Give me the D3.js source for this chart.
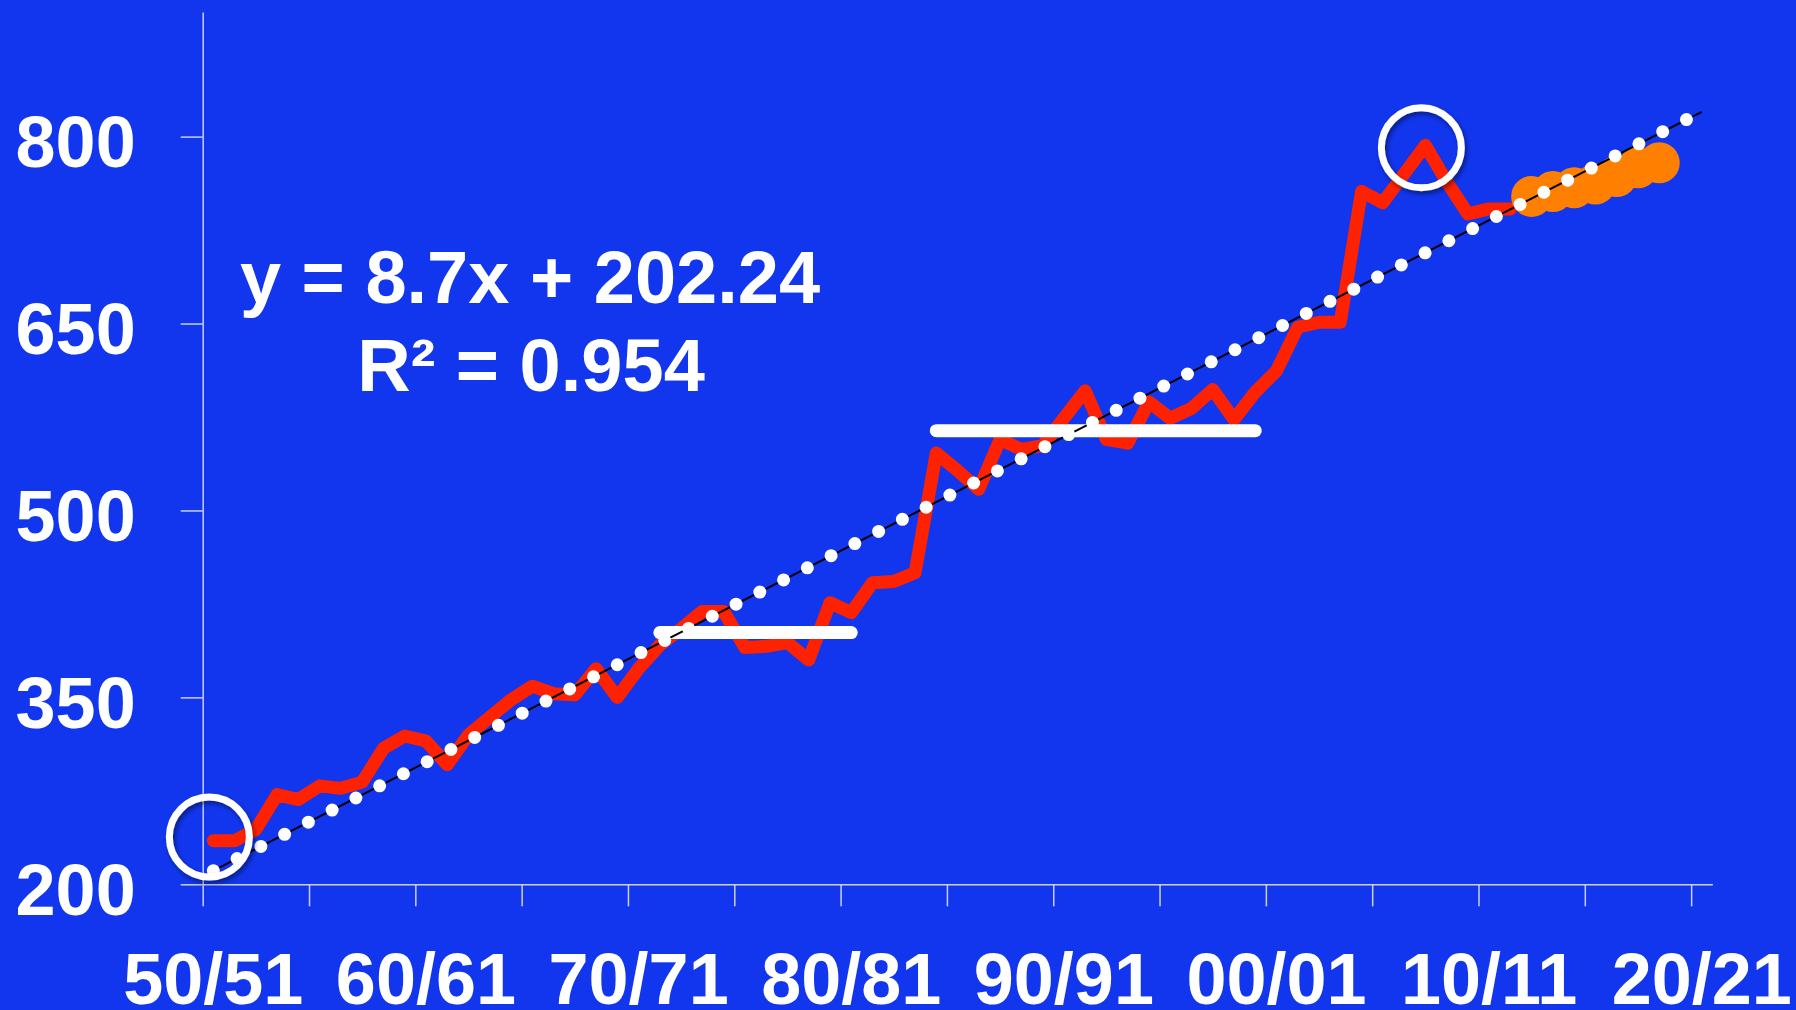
<!DOCTYPE html>
<html>
<head>
<meta charset="utf-8">
<script src="https://cdn.jsdelivr.net/npm/d3@7"></script>
<style>
  html, body { margin: 0; padding: 0; background: #1136EE; }
  svg { display: block; }
  text { font-family: "Liberation Sans", Arial, sans-serif; font-weight: bold; fill: #fff; }
</style>
</head>
<body>
<svg id="chart" width="1796" height="1010"></svg>
<script>
// ---------- DATA ----------
// 71 seasons, 1950/51 .. 2020/21
const seasons = d3.range(1950, 2021).map(y => {
  const a = String(y % 100).padStart(2, "0");
  const b = String((y + 1) % 100).padStart(2, "0");
  return a + "/" + b;
});
const xTickLabels = ["50/51", "60/61", "70/71", "80/81", "90/91", "00/01", "10/11", "20/21"];
const yTicks = [200, 350, 500, 650, 800];

// Observed series (1950/51 .. 2011/12)
const observed = [
  235, 235, 244, 272, 268, 279, 277, 282, 309, 319,
  315, 296, 320, 334, 348, 359, 353, 352, 373, 350,
  373, 392, 405, 419, 419, 390, 391, 394, 380, 426,
  418, 442, 443, 450, 546, 532, 517, 557, 549, 552,
  574, 596, 557, 554, 587, 574, 582, 597, 573, 595,
  612, 647, 651, 651, 756, 747, 770, 793, 764, 738,
  742, 742
];
// Projected series (2012/13 .. 2018/19)
const projectedSeasons = ["12/13", "13/14", "14/15", "15/16", "16/17", "17/18", "18/19"];
const projected = [752, 756, 759, 762, 768, 775, 779];

// Period averages (white bars)
const plateauStart = ["71/72", "84/85"];
const plateauEnd   = ["80/81", "99/00"];
const plateauValue = [402, 564];

// Highlighted points (circles)
const highlightSeasons = ["50/51", "07/08"];
const highlightValues  = [238, 791];

// Linear trend shown in the chart
const trendSlope = 8.7;
const trendIntercept = 202.24;
const trendR2 = "0.954";

// ---------- CHART ----------
const svg = d3.select("#chart");
const W = 1796, H = 1010;

const x = d3.scaleBand().domain(seasons).range([202.7, 1712.4]).padding(0);
const cx = s => x(s) + x.bandwidth() / 2;
const xi = d3.scaleLinear().domain([0, seasons.length]).range([202.7, 1712.4]);
const y = d3.scaleLinear().domain([200, 900]).range([884.3, 12]);

const defs = svg.append("defs");
const f = defs.append("filter").attr("id", "shadow")
  .attr("x", "-30%").attr("y", "-30%").attr("width", "160%").attr("height", "160%");
f.append("feDropShadow").attr("dx", 2).attr("dy", 3).attr("stdDeviation", 2.5)
  .attr("flood-color", "#000").attr("flood-opacity", 0.45);

const axisColor = "#c9d1fb";

// Y axis
const yAxis = svg.append("g").attr("transform", "translate(202.7,0)")
  .call(d3.axisLeft(y).tickValues(yTicks).tickSize(22).tickSizeOuter(0).tickPadding(45));
yAxis.select(".domain").attr("stroke", axisColor).attr("stroke-width", 1.5);
yAxis.selectAll(".tick line").attr("stroke", axisColor).attr("stroke-width", 1.5);
yAxis.selectAll(".tick text").attr("font-size", 72).attr("dy", "0.42em")
  .attr("fill", "#fff").style("font-family", "'Liberation Sans', Arial, sans-serif").style("font-weight", "bold");

// X axis (tick marks every 5 seasons)
const xAxis = svg.append("g").attr("transform", "translate(0,884.3)")
  .call(d3.axisBottom(xi).tickValues(d3.range(0, 71, 5)).tickSize(22).tickSizeOuter(0).tickFormat(""));
xAxis.select(".domain").attr("stroke", axisColor).attr("stroke-width", 1.5);
xAxis.selectAll(".tick line").attr("stroke", axisColor).attr("stroke-width", 1.5);

svg.append("g").selectAll("text").data(xTickLabels).join("text")
  .attr("x", d => cx(d)).attr("y", 1004)
  .attr("text-anchor", "middle").attr("font-size", 72)
  .text(d => d);

// Observed line
const obsData = observed.map((v, i) => ({ s: seasons[i], v }));
svg.append("path").datum(obsData)
  .attr("fill", "none").attr("stroke", "#FF2200").attr("stroke-width", 13)
  .attr("stroke-linejoin", "round").attr("stroke-linecap", "round")
  .attr("d", d3.line().x(d => cx(d.s)).y(d => y(d.v)));

// Projected dots
svg.append("g").selectAll("circle").data(projected.map((v, i) => ({ s: projectedSeasons[i], v })))
  .join("circle")
  .attr("cx", d => cx(d.s)).attr("cy", d => y(d.v)).attr("r", 20.5)
  .attr("fill", "#FF8000");

// Period average bars
svg.append("g").selectAll("line").data(plateauValue.map((v, i) => ({ a: plateauStart[i], b: plateauEnd[i], v })))
  .join("line")
  .attr("x1", d => cx(d.a)).attr("x2", d => cx(d.b))
  .attr("y1", d => y(d.v)).attr("y2", d => y(d.v))
  .attr("stroke", "#fff").attr("stroke-width", 13).attr("stroke-linecap", "round");

// Trend line
const trendData = [1, seasons.length].map(n => ({ s: seasons[n - 1], v: trendSlope * n + trendIntercept }));
const tl = d3.line().x(d => cx(d.s)).y(d => y(d.v));
svg.append("path").datum(trendData).attr("d", tl)
  .attr("fill", "none").attr("stroke", "#000").attr("stroke-width", 2);
svg.append("path").datum(trendData).attr("d", tl)
  .attr("fill", "none").attr("stroke", "#fff").attr("stroke-width", 13)
  .attr("stroke-linecap", "round").attr("stroke-dasharray", "0 26.67");

// Highlight circles
svg.append("g").selectAll("circle").data(highlightValues.map((v, i) => ({ s: highlightSeasons[i], v })))
  .join("circle")
  .attr("cx", d => cx(d.s) - 4).attr("cy", d => y(d.v)).attr("r", 40)
  .attr("fill", "none").attr("stroke", "#fff").attr("stroke-width", 7)
  .attr("filter", "url(#shadow)");

// Equation annotation
const ann = svg.append("g");
ann.append("text").attr("x", 530).attr("y", 302.7).attr("text-anchor", "middle").attr("font-size", 74)
  .text(`y = ${trendSlope}x + ${trendIntercept}`);
ann.append("text").attr("x", 531).attr("y", 390.7).attr("text-anchor", "middle").attr("font-size", 74)
  .text(`R² = ${trendR2}`);
</script>
</body>
</html>
